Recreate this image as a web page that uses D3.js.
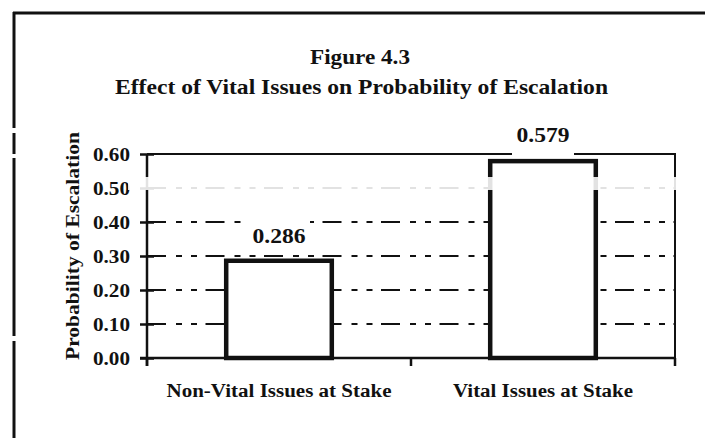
<!DOCTYPE html>
<html>
<head>
<meta charset="utf-8">
<script src="https://cdn.jsdelivr.net/npm/d3@7/dist/d3.min.js"></script>
<style>
  html, body { margin: 0; padding: 0; background: #fff; }
  svg { display: block; }
  text { font-family: "Liberation Serif", "DejaVu Serif", serif; font-weight: bold; fill: #111; }
</style>
</head>
<body>
<svg id="chart" width="705" height="438"></svg>
<script>
// ---- data ----
const categories = ["Non-Vital Issues at Stake", "Vital Issues at Stake"];
const values = [0.286, 0.579];
const valueLabels = ["0.286", "0.579"];
const yTicks = [0.0, 0.1, 0.2, 0.3, 0.4, 0.5, 0.6];
const yTickLabels = ["0.00", "0.10", "0.20", "0.30", "0.40", "0.50", "0.60"];
const titleLines = ["Figure 4.3", "Effect of Vital Issues on Probability of Escalation"];
const yAxisTitle = "Probability of Escalation";

// ---- layout ----
const W = 705, H = 438;
const plot = { left: 147, right: 675, top: 154, bottom: 358 };
const svg = d3.select("#chart");

const x = d3.scaleBand().domain(categories)
  .range([plot.left, plot.right]).paddingInner(0.6).paddingOuter(0.3);
const xStep = d3.scaleBand().domain(categories).range([plot.left, plot.right]);
const y = d3.scaleLinear().domain([0, 0.6]).range([plot.bottom, plot.top]);

// outer frame (scanned page border)
const frame = svg.append("g").attr("stroke", "#111").attr("stroke-width", 3).attr("fill", "none");
frame.append("line").attr("x1", 13).attr("x2", W).attr("y1", 13).attr("y2", 13);
[[12, 128], [133, 154], [158, 336], [341, H]].forEach(s =>
  frame.append("line").attr("x1", 14).attr("x2", 14).attr("y1", s[0]).attr("y2", s[1]));

// gridlines
const grid = svg.append("g");
grid.selectAll("line.grid").data(yTicks.filter(t => t > 0 && t < 0.6)).join("line")
  .attr("class", "grid")
  .attr("x1", plot.left).attr("x2", plot.right)
  .attr("y1", d => y(d)).attr("y2", d => y(d))
  .attr("stroke", "#111").attr("stroke-width", 2)
  .attr("stroke-dasharray", "19,10,6,9,6,8.5");

// plot border top & right
svg.append("line").attr("x1", plot.left).attr("x2", plot.right)
  .attr("y1", y(0.6)).attr("y2", y(0.6)).attr("stroke", "#111").attr("stroke-width", 2);
svg.append("line").attr("x1", plot.right).attr("x2", plot.right)
  .attr("y1", y(0.6) - 1).attr("y2", plot.bottom + 8).attr("stroke", "#111").attr("stroke-width", 2);

// value-label backgrounds (white boxes that break the lines)
const labelBaseline = (d, i) => i === 0 ? y(d) - 19 : y(d) - 19;
// bars
svg.append("g").selectAll("rect").data(values).join("rect")
  .attr("x", (d, i) => x(categories[i]))
  .attr("width", x.bandwidth())
  .attr("y", d => y(d))
  .attr("height", d => y(0) - y(d))
  .attr("fill", "#fff").attr("stroke", "#111").attr("stroke-width", 4.5);

// x axis
const xAxis = d3.axisBottom(xStep).tickSize(0).tickFormat("");
const gx = svg.append("g").attr("transform", `translate(0,${plot.bottom})`).call(xAxis);
gx.select(".domain").attr("stroke", "#111").attr("stroke-width", 2.5).attr("d", `M${plot.left - 7},0H${plot.right}`);
const bounds = [plot.left, ...categories.map(c => xStep(c) + xStep.bandwidth())];
gx.selectAll("line.bt").data(bounds).join("line").attr("class", "bt")
  .attr("x1", d => d).attr("x2", d => d).attr("y1", 0).attr("y2", 8)
  .attr("stroke", "#111").attr("stroke-width", 2.5);

// y axis
const yAxis = d3.axisLeft(y).tickValues(yTicks).tickSize(7).tickPadding(10)
  .tickFormat((d, i) => yTickLabels[i]);
const gy = svg.append("g").attr("transform", `translate(${plot.left},0)`).call(yAxis);
gy.select(".domain").attr("stroke", "#111").attr("stroke-width", 2.5)
  .attr("d", `M0,${plot.top}V${plot.bottom + 8}`);
gy.selectAll(".tick line").attr("stroke", "#111").attr("stroke-width", 2.5).attr("x1", 7);
gy.selectAll(".tick text")
  .attr("font-family", "Liberation Serif, serif").attr("font-weight", "bold")
  .attr("font-size", 18).attr("fill", "#111")
  .attr("dy", "0.34em").attr("x", -17)
  .attr("textLength", 37).attr("lengthAdjust", "spacingAndGlyphs");

// value labels with white background
const vl = svg.append("g");
values.forEach((v, i) => {
  const cx = x(categories[i]) + x.bandwidth() / 2;
  const base = i === 0 ? y(v) - 18 : y(v) - 19;
  vl.append("rect").attr("x", cx - 31).attr("width", 62)
    .attr("y", base - 22).attr("height", i === 0 ? 33 : 36).attr("fill", "#fff");
  vl.append("text").attr("x", cx).attr("y", base).attr("text-anchor", "middle")
    .attr("font-size", 21).attr("textLength", 53).attr("lengthAdjust", "spacingAndGlyphs")
    .text(valueLabels[i]);
});

// faded scan band around 0.50
svg.append("rect").attr("x", 128).attr("width", 552).attr("y", 177).attr("height", 13)
  .attr("fill", "#fff").attr("opacity", 0.88);

// category labels
const catWidths = [225, 180];
svg.append("g").selectAll("text").data(categories).join("text")
  .attr("x", d => xStep(d) + xStep.bandwidth() / 2)
  .attr("y", 397).attr("text-anchor", "middle").attr("font-size", 18)
  .attr("textLength", (d, i) => catWidths[i]).attr("lengthAdjust", "spacingAndGlyphs")
  .text(d => d);

// y axis title
svg.append("text").attr("transform", `translate(79,246) rotate(-90)`)
  .attr("text-anchor", "middle").attr("font-size", 19)
  .attr("textLength", 228).attr("lengthAdjust", "spacingAndGlyphs")
  .text(yAxisTitle);

// titles
svg.append("text").attr("x", 360).attr("y", 64).attr("text-anchor", "middle")
  .attr("font-size", 21).attr("textLength", 100).attr("lengthAdjust", "spacingAndGlyphs")
  .text(titleLines[0]);
svg.append("text").attr("x", 361.5).attr("y", 94).attr("text-anchor", "middle")
  .attr("font-size", 22).attr("textLength", 493).attr("lengthAdjust", "spacingAndGlyphs")
  .text(titleLines[1]);
</script>
</body>
</html>
